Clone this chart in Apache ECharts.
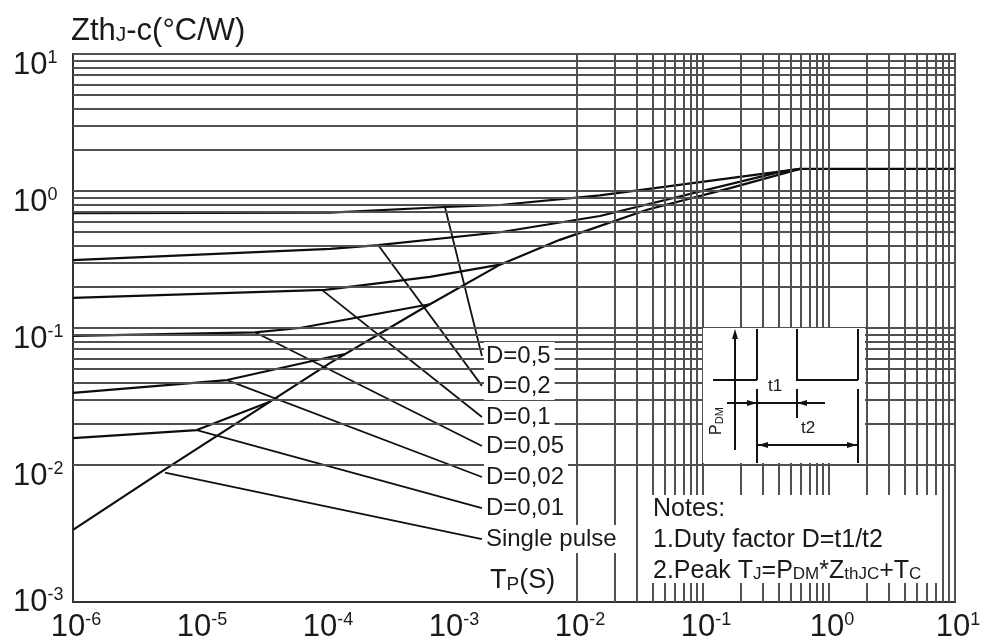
<!DOCTYPE html>
<html><head><meta charset="utf-8">
<script src="https://cdn.jsdelivr.net/npm/echarts@6/dist/echarts.min.js"></script>
<style>html,body{margin:0;padding:0;background:#fff}#c{width:981px;height:643px}</style>
</head><body><div id="c"></div>
<script>
// ---- axis ticks ----
const xTickValues = [1e-6, 1e-5, 1e-4, 1e-3, 1e-2, 1e-1, 1, 10];
const xTickExp = ['-6', '-5', '-4', '-3', '-2', '-1', '0', '1'];
const yTickValues = [1e-3, 1e-2, 1e-1, 1, 10];
const yTickExp = ['-3', '-2', '-1', '0', '1'];
const gridMultipliers = [1, 2, 3, 4, 5, 6, 7, 8, 9];

// ---- curves: [t (s), Zth (°C/W)] ----
const dutyHalf = [[1e-6, 0.69], [1.1e-4, 0.695], [8.95e-4, 0.764], [2.45e-3, 0.79], [0.0152, 0.93], [0.59, 1.45]];
const dutyFifth = [[1e-6, 0.313], [1.1e-4, 0.378], [2.64e-4, 0.403], [2.45e-3, 0.50], [0.0152, 0.657], [0.41, 1.38], [0.59, 1.45]];
const dutyTenth = [[1e-6, 0.166], [1e-4, 0.19], [6.8e-4, 0.236], [2.45e-3, 0.29]];
const dutyTwentieth = [[1e-6, 0.0875], [2.78e-5, 0.093], [6.3e-5, 0.10], [6.8e-4, 0.149]];
const dutyFiftieth = [[1e-6, 0.0336], [1.67e-5, 0.0417], [1.1e-4, 0.0614], [1.44e-4, 0.0645]];
const dutyHundredth = [[1e-6, 0.0157], [9.6e-6, 0.018], [3.65e-5, 0.029]];
const singlePulse = [[1e-6, 0.00336], [4.9e-6, 0.0088], [1.1e-4, 0.0556], [5.7e-4, 0.136], [2.45e-3, 0.29], [7.3e-3, 0.44], [0.036, 0.73], [0.164, 1.05], [0.59, 1.45], [10, 1.45]];

// ---- leader lines to labels ----
const labelNames = ['D=0,5', 'D=0,2', 'D=0,1', 'D=0,05', 'D=0,02', 'D=0,01', 'Single pulse'];
const leaderFrom = [[8.95e-4, 0.764], [2.64e-4, 0.403], [9.5e-5, 0.189], [2.78e-5, 0.093], [1.67e-5, 0.0417], [9.6e-6, 0.018], [5.37e-6, 0.0088]];
const leaderTo = [[1.76e-3, 0.0625], [1.76e-3, 0.0378], [1.76e-3, 0.0224], [1.76e-3, 0.01377], [1.76e-3, 0.00817], [1.76e-3, 0.00485], [1.76e-3, 0.00288]];

const FONT = '"Liberation Sans", Arial, Helvetica, sans-serif';
const INK = '#1a1a1a';

function decadeGrid(minExp, maxExp) {
  const out = [];
  for (let k = minExp; k < maxExp; k++) {
    for (const m of gridMultipliers) out.push(Number((m * Math.pow(10, k)).toPrecision(3)));
  }
  out.push(Math.pow(10, maxExp));
  return out;
}
const xGrid = decadeGrid(-6, 1);
const yGrid = decadeGrid(-3, 1);

const chart = echarts.init(document.getElementById('c'), null, { renderer: 'canvas' });

function curve(data) {
  return { type: 'line', data: data, symbol: 'none', z: 3, silent: true, animation: false,
    lineStyle: { color: '#0d0d0d', width: 2.2 } };
}

const series = [
  { type: 'line', data: [], z: 1, silent: true, animation: false,
    markLine: { silent: true, animation: false, symbol: ['none', 'none'], label: { show: false },
      lineStyle: { type: 'solid', color: '#505050', width: 2 },
      data: xGrid.map(v => ({ xAxis: v })).concat(yGrid.map(v => ({ yAxis: v }))) } },
  curve(dutyHalf), curve(dutyFifth), curve(dutyTenth), curve(dutyTwentieth),
  curve(dutyFiftieth), curve(dutyHundredth), curve(singlePulse)
];
labelNames.forEach((n, i) => {
  series.push({ type: 'line', data: [leaderFrom[i], leaderTo[i]], symbol: 'none', z: 4, silent: true,
    animation: false, lineStyle: { color: '#111', width: 1.8 } });
});

chart.setOption({
  animation: false,
  backgroundColor: '#fff',
  grid: { left: 73, right: 26, top: 54, bottom: 41, show: true, borderColor: '#333', borderWidth: 2, backgroundColor: '#fff' },
  xAxis: { type: 'log', logBase: 10, min: 1e-6, max: 10, axisLabel: { show: false }, axisTick: { show: false },
    axisLine: { show: false }, splitLine: { show: false } },
  yAxis: { type: 'log', logBase: 10, min: 1e-3, max: 10, axisLabel: { show: false }, axisTick: { show: false },
    axisLine: { show: false }, splitLine: { show: false } },
  series: series
});

function txt(x, y, text, opts) {
  const style = Object.assign({ text: text, x: 0, y: 0, fill: INK, font: '24px ' + FONT,
    align: 'left', verticalAlign: 'middle', textAlign: 'left', textVerticalAlign: 'middle' }, opts || {});
  if (style.align) style.textAlign = style.align;
  if (style.verticalAlign) style.textVerticalAlign = style.verticalAlign;
  return { type: 'text', x: x, y: y, z: 20, silent: true, style: style };
}
function seg(x1, y1, x2, y2, w) {
  return { type: 'line', z: 21, silent: true, shape: { x1: x1, y1: y1, x2: x2, y2: y2 }, style: { stroke: '#111', lineWidth: w || 2 } };
}
function tri(points) {
  return { type: 'polygon', z: 21, silent: true, shape: { points: points }, style: { fill: '#111' } };
}

const supRich = {
  b: { fontSize: 31, fontFamily: FONT, fill: INK, verticalAlign: 'bottom', lineHeight: 31 },
  s: { fontSize: 18, fontFamily: FONT, fill: INK, verticalAlign: 'top', lineHeight: 18 }
};

const g = [];
// x tick labels
xTickValues.forEach((v, i) => {
  const px = chart.convertToPixel({ xAxisIndex: 0 }, v);
  g.push(txt(px + 3, 627, '{b|10}{s|' + xTickExp[i] + '}', { align: 'center', rich: supRich }));
});
// y tick labels
yTickValues.forEach((v, i) => {
  const py = chart.convertToPixel({ yAxisIndex: 0 }, v);
  const off = i === 0 ? 0 : 11;
  g.push(txt(13, py + off, '{b|10}{s|' + yTickExp[i] + '}', { align: 'left', rich: supRich }));
});
// curve labels
labelNames.forEach((n, i) => {
  const p = chart.convertToPixel({ gridIndex: 0 }, leaderTo[i]);
  g.push(txt(p[0] + 2, p[1], n, { font: '24px ' + FONT, backgroundColor: '#fff', padding: [2, 4, 2, 2] }));
});
// title
g.push(txt(71, 31, '{a|Zth}{j|J}{a|-c(°C/W)}', { rich: {
  a: { fontSize: 31, fontFamily: FONT, fill: INK, verticalAlign: 'bottom' },
  j: { fontSize: 21, fontFamily: FONT, fill: INK, verticalAlign: 'bottom', padding: [0, 0, 1, 0] } } }));
// Tp(S)
g.push(txt(487, 581, '{n|T}{p|P}{n|(S)}', { backgroundColor: '#fff', padding: [2, 4, 2, 3], rich: {
  n: { fontSize: 27, fontFamily: FONT, fill: INK, verticalAlign: 'bottom' },
  p: { fontSize: 19, fontFamily: FONT, fill: INK, verticalAlign: 'bottom' } } }));
// notes box
g.push({ type: 'rect', z: 19, silent: true, shape: { x: 645, y: 495, width: 292, height: 88 }, style: { fill: '#fff' } });
const noteRich = {
  n: { fontSize: 25, fontFamily: FONT, fill: INK, verticalAlign: 'bottom' },
  u: { fontSize: 17, fontFamily: FONT, fill: INK, verticalAlign: 'bottom', padding: [0, 0, 1, 0] }
};
g.push(txt(653, 509, 'Notes:', { font: '25px ' + FONT }));
g.push(txt(653, 540, '1.Duty factor D=t1/t2', { font: '25px ' + FONT }));
g.push(txt(653, 571, '{n|2.Peak T}{u|J}{n|=P}{u|DM}{n|*Z}{u|thJC}{n|+T}{u|C}', { rich: noteRich }));

// inset pulse diagram
g.push({ type: 'rect', z: 19, silent: true, shape: { x: 703, y: 328, width: 162, height: 135 }, style: { fill: '#fff' } });
g.push(seg(735, 334, 735, 450));
g.push(tri([[735, 329], [732, 339], [738, 339]]));
g.push(seg(713, 380, 757, 380));
g.push(seg(757, 329, 757, 380));
g.push(seg(757, 389, 757, 463));
g.push(seg(797, 329, 797, 380));
g.push(seg(796, 380, 858, 380));
g.push(seg(858, 329, 858, 380));
g.push(seg(858, 389, 858, 463));
g.push(seg(797, 389, 797, 418));
g.push(seg(727, 403, 825, 403));
g.push(tri([[757, 403], [747, 400], [747, 406]]));
g.push(tri([[797, 403], [807, 400], [807, 406]]));
g.push(seg(758, 445, 857, 445));
g.push(tri([[758, 445], [768, 442], [768, 448]]));
g.push(tri([[857, 445], [847, 442], [847, 448]]));
g.push(txt(768, 386, 't1', { font: '17px ' + FONT }));
g.push(txt(801, 428, 't2', { font: '17px ' + FONT }));
g.push({ type: 'text', x: 717, y: 421, rotation: Math.PI / 2, z: 21, silent: true,
  style: { text: '{p|P}{d|DM}', x: 0, y: 0, align: 'center', verticalAlign: 'middle', textAlign: 'center', textVerticalAlign: 'middle',
    rich: { p: { fontSize: 16, fontFamily: FONT, fill: INK, verticalAlign: 'bottom' },
            d: { fontSize: 11, fontFamily: FONT, fill: INK, verticalAlign: 'bottom' } } } });

chart.setOption({ graphic: { elements: g } });
</script>
</body></html>
